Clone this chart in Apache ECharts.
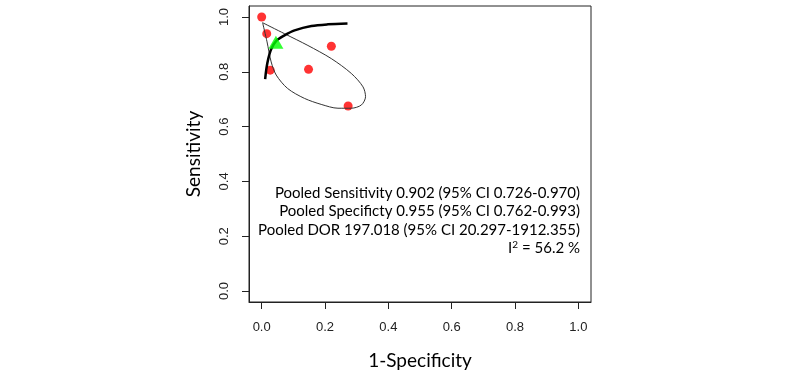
<!DOCTYPE html>
<html>
<head>
<meta charset="utf-8">
<script src="https://cdn.jsdelivr.net/npm/echarts@6/dist/echarts.min.js"></script>
<style>
  html, body { margin: 0; padding: 0; background: #fff; }
  #chart { width: 800px; height: 375px; }
</style>
</head>
<body>
<div id="chart"></div>
<script>
// study points (1-specificity, sensitivity)
const studyFpr = [0.000, 0.016, 0.027, 0.148, 0.220, 0.273]
const studySens = [1.000, 0.939, 0.806, 0.809, 0.893, 0.675]

// pooled estimate
const pooledPoint = [0.045, 0.908]

// SROC curve
const srocFpr = [0.011, 0.015, 0.021, 0.030, 0.046, 0.072, 0.104, 0.157, 0.209, 0.271]
const srocSens = [0.773, 0.812, 0.848, 0.882, 0.913, 0.933, 0.951, 0.967, 0.973, 0.976]

// confidence region
const regionFpr = [0.003, 0.072, 0.146, 0.220, 0.283, 0.320, 0.328, 0.315, 0.283, 0.241, 0.188, 0.135, 0.082, 0.046, 0.030, 0.017, 0.003]
const regionSens = [0.979, 0.939, 0.896, 0.848, 0.794, 0.745, 0.709, 0.679, 0.667, 0.667, 0.681, 0.703, 0.739, 0.788, 0.836, 0.909, 0.979]

const tickValues = [0, 0.2, 0.4, 0.6, 0.8, 1.0]

const summaryLines = [
  'Pooled Sensitivity 0.902 (95% CI 0.726-0.970)',
  'Pooled Specificty 0.955 (95% CI 0.762-0.993)',
  'Pooled DOR 197.018 (95% CI 20.297-1912.355)'
]
const i2Text = '56.2 %'

const zip = (a, b) => a.map((v, i) => [v, b[i]])

const chart = echarts.init(document.getElementById('chart'))

const axisBase = {
  type: 'value',
  min: -0.04,
  max: 1.04,
  nameLocation: 'middle',
  nameTextStyle: { fontFamily: 'Lato', fontSize: 19, color: '#000' },
  axisLine: { show: true, onZero: false, lineStyle: { color: '#222', width: 1 } },
  axisTick: { show: true, length: 7, customValues: tickValues, lineStyle: { color: '#222' } },
  axisLabel: {
    customValues: tickValues,
    fontFamily: 'Liberation Sans',
    fontSize: 13,
    color: '#222',
    formatter: v => v.toFixed(1)
  },
  splitLine: { show: false }
}

const textStyle = { fontFamily: 'Lato', fontSize: 15, fill: '#000', textAlign: 'right', textVerticalAlign: 'middle' }

chart.setOption({
  animation: false,
  backgroundColor: '#fff',
  grid: {
    left: 249, right: 209, top: 6, height: 299,
    show: true, borderColor: '#222', borderWidth: 1, backgroundColor: 'transparent'
  },
  xAxis: Object.assign({}, axisBase, {
    name: '1-Specificity',
    nameGap: 49,
    axisLabel: Object.assign({}, axisBase.axisLabel, { margin: 19 })
  }),
  yAxis: Object.assign({}, axisBase, {
    name: 'Sensitivity',
    nameGap: 46,
    axisLabel: Object.assign({}, axisBase.axisLabel, { margin: 18, rotate: 90 })
  }),
  graphic: summaryLines.map((t, i) => ({
    type: 'text',
    x: 580,
    y: 193 + i * 18.4,
    style: Object.assign({ text: t }, textStyle)
  })).concat([{
    type: 'text',
    x: 580,
    y: 193 + 3 * 18.4,
    style: Object.assign({}, textStyle, {
      text: 'I{sup|2} = ' + i2Text,
      rich: { sup: { fontFamily: 'Lato', fontSize: 10, verticalAlign: 'top', padding: [0, 0, 6, 0] } }
    })
  }]),
  series: [
    {
      name: 'region',
      type: 'line',
      data: zip(regionFpr, regionSens),
      smooth: 0.3,
      showSymbol: false,
      lineStyle: { color: '#333', width: 1 },
      silent: true
    },
    {
      name: 'sroc',
      type: 'line',
      data: zip(srocFpr, srocSens),
      smooth: 0.3,
      showSymbol: false,
      lineStyle: { color: '#000', width: 2.5 },
      silent: true
    },
    {
      name: 'studies',
      type: 'scatter',
      data: zip(studyFpr, studySens),
      symbolSize: 9,
      itemStyle: { color: '#ff0000' }
    },
    {
      name: 'pooled',
      type: 'scatter',
      data: [pooledPoint],
      symbol: 'triangle',
      symbolSize: [15, 13],
      itemStyle: { color: '#00ff00' },
      z: 5
    }
  ]
})
</script>
</body>
</html>
